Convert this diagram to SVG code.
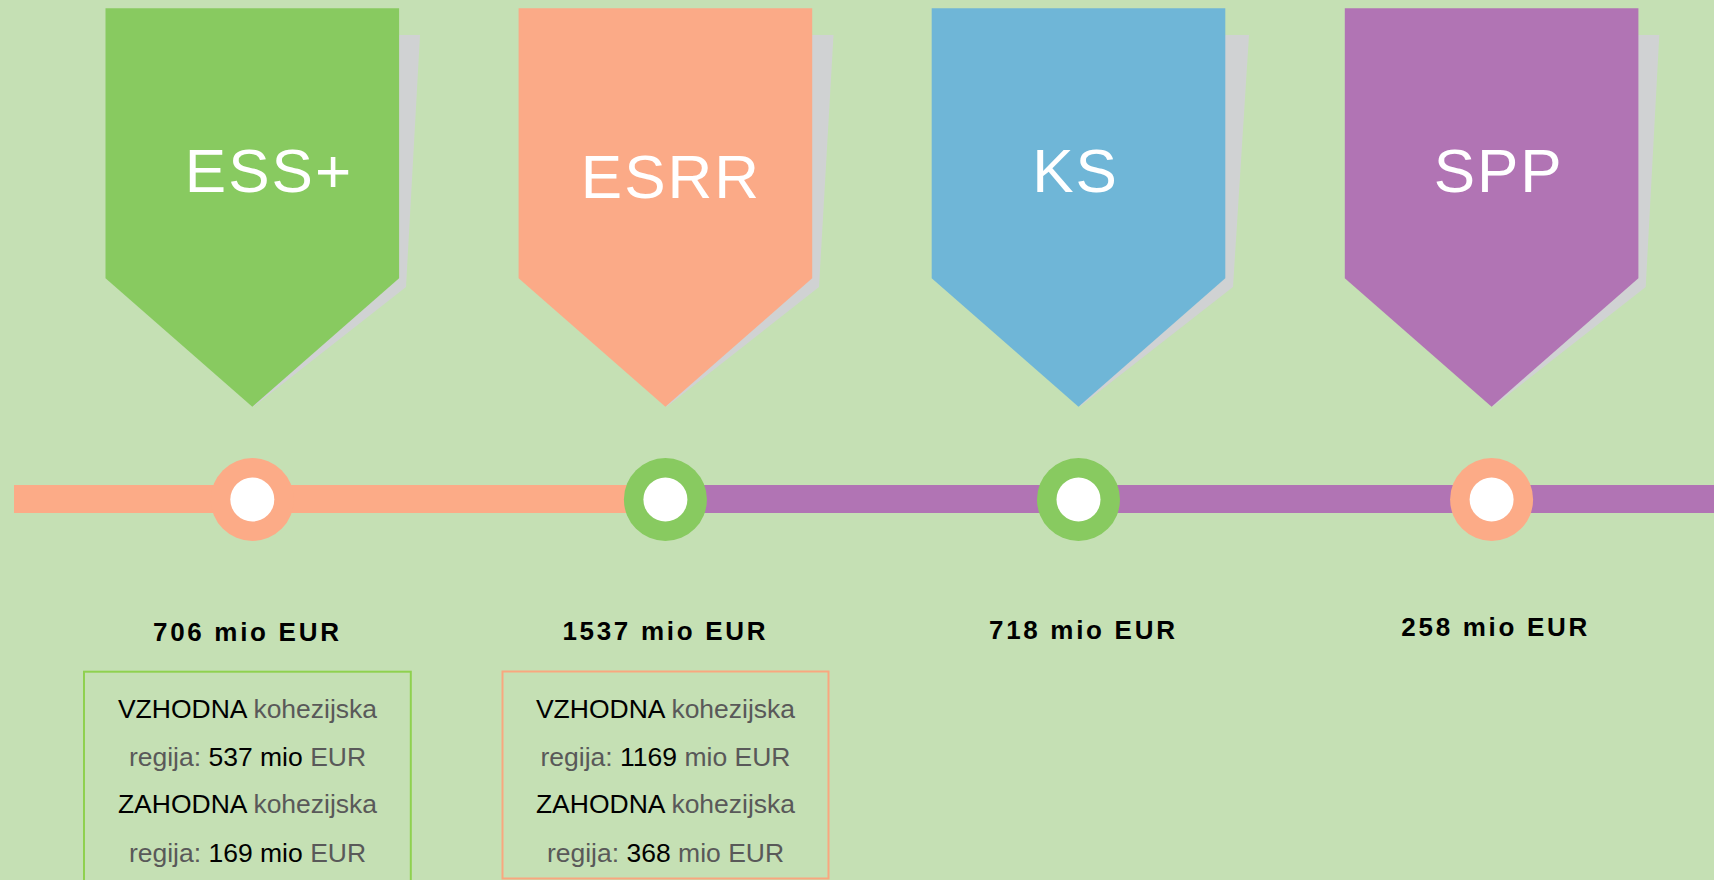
<svg xmlns="http://www.w3.org/2000/svg" width="1714" height="880" viewBox="0 0 1714 880">
<style>
.title{font-family:"Liberation Sans",Arial,sans-serif;font-size:62px;fill:#ffffff;letter-spacing:2px;text-anchor:middle}
.amt{font-family:"Liberation Sans",Arial,sans-serif;font-size:26px;font-weight:bold;fill:#000000;letter-spacing:2.7px;text-anchor:middle}
.info{font-family:"Liberation Sans",Arial,sans-serif;font-size:26.5px;text-anchor:middle}
.k{fill:#000000}
.g{fill:#595959}
.shadow{fill:#d0d2d3}
.ring-o{fill:#fcab87}
.ring-g{fill:#88ca60}
.hole{fill:#ffffff}
</style>
<rect x="0" y="0" width="1714" height="880" fill="#c5e0b4"/>

<g id="connectors">
  <rect x="14" y="485" width="652" height="28" fill="#fcab87"/>
  <rect x="665" y="485" width="1049" height="28" fill="#b174b4"/>
</g>

<g id="node-ess">
  <polygon class="shadow" points="399.1,35 420,35 406,287 253.5,406.7"/>
  <polygon fill="#88ca60" points="105.5,8.3 399.1,8.3 399.1,278.3 252.3,406.7 105.5,278.3"/>
  <text class="title" x="269" y="192.3">ESS+</text>
  <circle class="ring-o" cx="252.3" cy="499.5" r="41.5"/>
  <circle class="hole" cx="252.3" cy="499.5" r="22"/>
  <text class="amt" x="247.3" y="640.5">706 mio EUR</text>
  <rect x="84" y="671.7" width="326.8" height="240" fill="none" stroke="#8fd14f" stroke-width="2"/>
  <text class="info" x="247.5" y="718.3"><tspan class="k">VZHODNA</tspan> <tspan class="g">kohezijska</tspan></text>
  <text class="info" x="247.5" y="765.7"><tspan class="g">regija:</tspan> <tspan class="k">537 mio</tspan> <tspan class="g">EUR</tspan></text>
  <text class="info" x="247.5" y="813.3"><tspan class="k">ZAHODNA</tspan> <tspan class="g">kohezijska</tspan></text>
  <text class="info" x="247.5" y="861.7"><tspan class="g">regija:</tspan> <tspan class="k">169 mio</tspan> <tspan class="g">EUR</tspan></text>
</g>

<g id="node-esrr">
  <polygon class="shadow" points="812.2,35 833.5,35 819,287 666.6,406.7"/>
  <polygon fill="#fbaa87" points="518.6,8.3 812.2,8.3 812.2,278.3 665.4,406.7 518.6,278.3"/>
  <text class="title" x="671" y="197.7">ESRR</text>
  <circle class="ring-g" cx="665.4" cy="499.5" r="41.5"/>
  <circle class="hole" cx="665.4" cy="499.5" r="22"/>
  <text class="amt" x="665.3" y="640">1537 mio EUR</text>
  <rect x="502.5" y="671.5" width="326" height="207" fill="none" stroke="#f9a77f" stroke-width="2"/>
  <text class="info" x="665.5" y="718.3"><tspan class="k">VZHODNA</tspan> <tspan class="g">kohezijska</tspan></text>
  <text class="info" x="665.5" y="765.7"><tspan class="g">regija:</tspan> <tspan class="k">1169</tspan> <tspan class="g">mio EUR</tspan></text>
  <text class="info" x="665.5" y="813.3"><tspan class="k">ZAHODNA</tspan> <tspan class="g">kohezijska</tspan></text>
  <text class="info" x="665.5" y="861.7"><tspan class="g">regija:</tspan> <tspan class="k">368</tspan> <tspan class="g">mio EUR</tspan></text>
</g>

<g id="node-ks">
  <polygon class="shadow" points="1225.3,35 1249,35 1233,287 1079.7,406.7"/>
  <polygon fill="#6fb6d7" points="931.7,8.3 1225.3,8.3 1225.3,278.3 1078.5,406.7 931.7,278.3"/>
  <text class="title" x="1075.5" y="192">KS</text>
  <circle class="ring-g" cx="1078.5" cy="499.5" r="41.5"/>
  <circle class="hole" cx="1078.5" cy="499.5" r="22"/>
  <text class="amt" x="1083.3" y="638.8">718 mio EUR</text>
</g>

<g id="node-spp">
  <polygon class="shadow" points="1638.4,35 1659.3,35 1645.7,287 1492.8,406.7"/>
  <polygon fill="#b174b4" points="1344.8,8.3 1638.4,8.3 1638.4,278.3 1491.6,406.7 1344.8,278.3"/>
  <text class="title" x="1498.7" y="192.3">SPP</text>
  <circle class="ring-o" cx="1491.6" cy="499.5" r="41.5"/>
  <circle class="hole" cx="1491.6" cy="499.5" r="22"/>
  <text class="amt" x="1495.7" y="635.5">258 mio EUR</text>
</g>
</svg>
